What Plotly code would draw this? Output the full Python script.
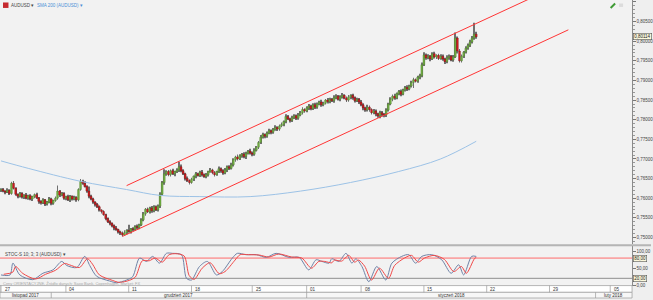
import plotly.graph_objects as go

# ---------------- DATA ----------------
# 4H AUDUSD closes in pips (x1e-4), bar index 0..227
close_pips = [
    7622, 7618, 7615, 7620, 7612, 7638, 7625, 7610, 7605, 7612,
    7603, 7608, 7600, 7606, 7598, 7604, 7609, 7601, 7592, 7588,
    7596, 7585, 7590, 7598, 7587, 7594, 7600, 7618, 7608, 7612,
    7600, 7604, 7596, 7605, 7598, 7602, 7596, 7622, 7643, 7638,
    7630, 7618, 7605, 7598, 7590, 7584, 7578, 7570, 7566, 7558,
    7548, 7540, 7536, 7530, 7524, 7520, 7514, 7511, 7506, 7512,
    7518, 7515, 7522, 7520, 7528, 7525, 7532, 7545, 7560, 7572,
    7565, 7575, 7568, 7578, 7570, 7580, 7610, 7640, 7662, 7668,
    7660, 7670, 7662, 7668, 7672, 7680, 7670, 7662, 7650, 7645,
    7640, 7648, 7656, 7662, 7658, 7666, 7660, 7655, 7660, 7668,
    7672, 7665, 7660, 7668, 7675, 7670, 7664, 7672, 7680, 7676,
    7685, 7698, 7705, 7700, 7708, 7712, 7706, 7714, 7720, 7715,
    7712, 7722, 7730, 7742, 7755, 7762, 7758, 7766, 7772, 7768,
    7775, 7780, 7776, 7784, 7788, 7795, 7808, 7802, 7798, 7805,
    7810, 7804, 7812, 7818, 7826, 7822, 7830, 7835, 7828, 7838,
    7832, 7840, 7845, 7838, 7842, 7850, 7846, 7852, 7848, 7856,
    7860, 7852, 7858, 7862, 7855, 7850, 7858, 7862, 7856, 7848,
    7852, 7845, 7838, 7830, 7825, 7832, 7826, 7818, 7822, 7815,
    7810, 7818, 7813, 7812, 7825, 7840, 7852, 7860, 7855, 7866,
    7872, 7865, 7876, 7882, 7878, 7886, 7895, 7902, 7898, 7908,
    7912, 7940, 7965, 7958, 7962, 7955, 7968, 7960, 7964, 7956,
    7962, 7955, 7948, 7958, 7962, 7952, 7960, 8008, 7975, 7950,
    7962, 7972, 7982, 7990, 7998, 8008, 8018, 8011.4,
]
first_open_pips = 7620
# upper / lower wick lengths in pips
up_wick = [
    3, 4, 2, 5, 3, 4, 6, 3, 2, 4,
    3, 2, 5, 3, 4, 2, 3, 5, 2, 3,
    4, 2, 3, 5, 3, 2, 4, 14, 3, 4,
    3, 2, 5, 3, 2, 4, 3, 3, 6, 4,
    5, 3, 12, 4, 3, 2, 4, 3, 2, 3,
    2, 3, 4, 2, 3, 5, 2, 3, 4, 6,
    3, 14, 2, 4, 3, 5, 3, 4, 5, 3,
    4, 3, 5, 4, 3, 4, 5, 4, 12, 3,
    4, 3, 5, 2, 4, 13, 6, 4, 3, 5,
    3, 4, 2, 5, 3, 4, 6, 3, 4, 2,
    5, 3, 4, 2, 6, 3, 4, 5, 3, 4,
    5, 4, 3, 6, 4, 3, 5, 4, 3, 6,
    4, 5, 3, 4, 6, 5, 3, 4, 5, 3,
    4, 6, 3, 4, 5, 3, 6, 4, 3, 5,
    4, 3, 5, 4, 6, 3, 4, 5, 3, 4,
    5, 4, 3, 6, 4, 3, 5, 4, 3, 6,
    5, 3, 4, 6, 3, 4, 5, 3, 4, 3,
    4, 3, 5, 4, 3, 6, 4, 3, 5, 4,
    3, 5, 4, 4, 4, 3, 5, 4, 6, 3,
    4, 5, 3, 4, 6, 3, 4, 5, 3, 4,
    5, 6, 7, 4, 5, 3, 4, 5, 3, 4,
    5, 4, 3, 6, 4, 3, 5, 14, 4, 5,
    4, 3, 5, 4, 6, 5, 29, 6,
]
down_wick = [
    4, 3, 5, 2, 4, 3, 3, 4, 5, 3,
    4, 5, 3, 4, 3, 5, 4, 3, 6, 4,
    3, 5, 4, 3, 5, 4, 3, 4, 5, 3,
    4, 5, 3, 6, 4, 3, 5, 4, 3, 4,
    3, 4, 5, 3, 4, 5, 3, 4, 5, 3,
    4, 3, 5, 4, 6, 3, 4, 5, 4, 1,
    4, 3, 5, 4, 3, 5, 4, 3, 4, 5,
    3, 4, 5, 4, 3, 4, 5, 4, 6, 5,
    4, 5, 3, 6, 4, 5, 4, 3, 5, 4,
    5, 3, 4, 5, 3, 4, 5, 3, 4, 5,
    3, 4, 5, 3, 4, 5, 4, 3, 5, 4,
    3, 4, 5, 4, 3, 5, 4, 6, 3, 4,
    5, 4, 3, 5, 4, 3, 5, 4, 3, 5,
    4, 3, 5, 4, 3, 5, 4, 3, 5, 4,
    3, 5, 4, 3, 5, 4, 3, 5, 4, 3,
    5, 4, 3, 5, 4, 3, 5, 4, 3, 5,
    4, 3, 5, 4, 3, 5, 4, 6, 5, 4,
    3, 5, 4, 6, 5, 4, 6, 5, 4, 6,
    5, 6, 5, 6, 5, 4, 3, 5, 4, 3,
    4, 5, 3, 4, 5, 3, 4, 14, 3, 4,
    5, 4, 3, 5, 4, 6, 3, 4, 5, 4,
    3, 5, 6, 4, 5, 3, 4, 3, 6, 4,
    4, 5, 3, 4, 5, 4, 4, 5,
]

# SMA 200 (read at sample bars)
sma_bars = [0, 13, 38, 60, 76, 95, 119, 143, 167, 190, 210, 227]
sma_vals = [0.7695, 0.7676, 0.7643, 0.7622, 0.7607, 0.7604, 0.7604,
            0.7618, 0.7640, 0.7668, 0.7700, 0.7745]

# trend channel
chan_low_bars = [58, 271]
chan_low_vals = [0.75025, 0.8029]
chan_up_bars = [60, 271]
chan_up_vals = [0.7632, 0.8154]

# Stochastic 10;3;3
k_bars = [0, 4.3, 5.7, 9, 15.2, 20, 24.8, 29, 31.4, 36.2, 40, 42.4, 45.7, 51.9,
          55.2, 60, 62.9, 66.2, 69.5, 72.4, 75.7, 79, 81.9, 86.2, 88.6, 91,
          94.8, 98.6, 102.9, 105.7, 110.5, 112.9, 117, 122, 126.7, 131.4,
          137.6, 142.4, 147, 150.5, 153.3, 156.7, 158, 161.4, 164.8, 167.6,
          169.5, 172.4, 175.7, 179.5, 183.8, 186.7, 191.4, 194.8, 198, 201,
          205.7, 210.5, 215, 218.6, 221, 224.8, 227]
k_vals = [30, 30, 65, 30, 16, 35, 45, 70, 58, 52, 85, 58, 26, 12,
          7, 15, 25, 80, 70, 85, 65, 94, 94, 90, 20, 15,
          55, 70, 30, 40, 80, 94, 90, 90, 82, 94,
          82, 82, 45, 75, 70, 65, 78, 70, 94, 65,
          78, 55, 10, 55, 15, 65, 85, 90, 65, 85,
          90, 75, 35, 60, 30, 85, 85]
d_bars = [1.3, 5.6, 7, 10.3, 16.5, 21.3, 26.1, 30.3, 32.7, 37.5, 41.3, 43.7, 47,
          53.2, 56.5, 61.3, 64.2, 67.5, 70.8, 73.7, 77, 80.3, 83.2, 87.5, 89.9,
          92.3, 96.1, 99.9, 104.2, 107, 111.8, 114.2, 118.3, 123.3, 128, 132.7,
          138.9, 143.7, 148.3, 151.8, 154.6, 158, 159.3, 162.7, 166.1, 168.9,
          170.8, 173.7, 177, 180.8, 185.1, 188, 192.7, 196.1, 199.3, 202.3,
          207, 211.8, 216.3, 219.9, 222.3, 226.1, 227]
d_vals = [32, 38, 55, 35, 18, 32, 44, 64, 60, 52, 78, 62, 30,
          14, 8, 14, 24, 72, 72, 80, 68, 90, 93, 86, 28,
          17, 50, 66, 34, 40, 74, 90, 90, 89, 83, 92,
          83, 80, 50, 70, 70, 66, 74, 71, 88, 68,
          74, 56, 15, 50, 20, 58, 80, 88, 68, 80,
          88, 76, 40, 55, 35, 78, 82]

# axis labels
price_ticks = [0.750, 0.755, 0.760, 0.765, 0.770, 0.775, 0.780, 0.785,
               0.790, 0.795, 0.800, 0.805, 0.810]
stoch_ticks = [0, 50, 100]
stoch_levels = [80, 20]
week_bars = [0, 31, 61, 91, 120, 146, 172, 202, 232, 262, 291]
week_labels = ["27", "04", "11", "18", "25", "01", "08", "15", "22", "29", "05"]
month_bars = [24, 146, 284]
month_labels = ["listopad 2017", "grudzień 2017", "styczeń 2018", "luty 2018"]
last_price = 0.80114

# ---------------- BUILD ----------------
W, H = 653, 300
PLOT_R = 634
FONT = "Liberation Sans"
r0 = -0.476
r1 = r0 + PLOT_R / 2.1

def py(px):  # pixel y (from top) -> paper
    return (H - px) / H

def pxx(px):
    return px / W

n = len(close_pips)
closes = [c / 1e4 for c in close_pips]
opens = [first_open_pips / 1e4] + closes[:-1]
highs = [max(o, c) + u / 1e4 for o, c, u in zip(opens, closes, up_wick)]
lows = [min(o, c) - d / 1e4 for o, c, d in zip(opens, closes, down_wick)]
idx = list(range(n))

fig = go.Figure()

# wicks
fig.add_trace(go.Bar(x=idx, y=[h - l for h, l in zip(highs, lows)], base=lows,
                     width=0.4, marker=dict(color="#707070", line=dict(width=0)),
                     xaxis="x", yaxis="y", hoverinfo="skip", showlegend=False))
# bodies
body_h = [max(abs(c - o), 0.00007) for o, c in zip(opens, closes)]
body_b = [min(o, c) for o, c in zip(opens, closes)]
body_col = ["#72b043" if c >= o else "#dc1a1f" for o, c in zip(opens, closes)]
body_line = ["#4f7f2c" if c >= o else "#6a0d0d" for o, c in zip(opens, closes)]
fig.add_trace(go.Bar(x=idx, y=body_h, base=body_b, width=0.85,
                     marker=dict(color=body_col, line=dict(width=0.4, color=body_line)),
                     xaxis="x", yaxis="y", hoverinfo="skip", showlegend=False))

# SMA 200
fig.add_trace(go.Scatter(x=sma_bars, y=sma_vals, mode="lines",
                         line=dict(color="#9cc2e6", width=1, shape="spline", smoothing=1.0),
                         xaxis="x", yaxis="y", showlegend=False, hoverinfo="skip"))
# channel
for bx, by in ((chan_up_bars, chan_up_vals), (chan_low_bars, chan_low_vals)):
    fig.add_trace(go.Scatter(x=bx, y=by, mode="lines",
                             line=dict(color="#ff3535", width=1),
                             xaxis="x", yaxis="y", showlegend=False, hoverinfo="skip"))

# stochastic
fig.add_trace(go.Scatter(x=[r0, r1], y=[stoch_levels[0]] * 2, mode="lines",
                         line=dict(color="#ff6b6b", width=1), xaxis="x2", yaxis="y2",
                         showlegend=False, hoverinfo="skip"))
fig.add_trace(go.Scatter(x=[r0, r1], y=[stoch_levels[1]] * 2, mode="lines",
                         line=dict(color="#8f8f8f", width=1), xaxis="x2", yaxis="y2",
                         showlegend=False, hoverinfo="skip"))
fig.add_trace(go.Scatter(x=k_bars, y=k_vals, mode="lines",
                         line=dict(color="#6f82a6", width=1, shape="spline", smoothing=0.8),
                         xaxis="x2", yaxis="y2", showlegend=False, hoverinfo="skip"))
fig.add_trace(go.Scatter(x=d_bars, y=d_vals, mode="lines",
                         line=dict(color="#f04848", width=1, shape="spline", smoothing=0.8),
                         xaxis="x2", yaxis="y2", showlegend=False, hoverinfo="skip"))

shapes = []
annotations = []

# panel separator
shapes.append(dict(type="rect", xref="paper", yref="paper", x0=0, x1=1,
                   y0=py(248), y1=py(246), fillcolor="#b5b5b5", line=dict(width=0), layer="above"))
# axis rows
row_mid = py(294.3)
shapes.append(dict(type="rect", xref="paper", yref="paper", x0=0, x1=pxx(PLOT_R),
                   y0=row_mid, y1=py(287.5), fillcolor="#ffffff",
                   line=dict(color="#9a9a9a", width=0.7)))
shapes.append(dict(type="rect", xref="paper", yref="paper", x0=0, x1=pxx(PLOT_R),
                   y0=0, y1=row_mid, fillcolor="#f7f7f7",
                   line=dict(color="#9a9a9a", width=0.7)))
for b, lab in zip(week_bars, week_labels):
    shapes.append(dict(type="line", xref="x", yref="paper", x0=b, x1=b,
                       y0=row_mid, y1=py(287.5), line=dict(color="#9a9a9a", width=0.7)))
    annotations.append(dict(xref="x", yref="paper", x=b, y=py(291), xanchor="left",
                            yanchor="middle", xshift=1.5, text=lab, showarrow=False,
                            font=dict(family=FONT, size=4.5, color="#333")))
for b in month_bars:
    shapes.append(dict(type="line", xref="x", yref="paper", x0=b, x1=b,
                       y0=0, y1=row_mid, line=dict(color="#9a9a9a", width=0.7)))
bounds = [r0] + month_bars + [r1]
for i, lab in enumerate(month_labels):
    annotations.append(dict(xref="x", yref="paper", x=(bounds[i] + bounds[i + 1]) / 2,
                            y=py(297.2), xanchor="center", yanchor="middle", text=lab,
                            showarrow=False, font=dict(family=FONT, size=4.5, color="#333")))

# header
shapes.append(dict(type="rect", xref="paper", yref="paper", x0=pxx(3), x1=pxx(8.5),
                   y0=py(8), y1=py(2.5), fillcolor="#c62a2f", line=dict(width=0)))
annotations.append(dict(xref="paper", yref="paper", x=pxx(10.5), y=py(5.2), xanchor="left",
                        yanchor="middle", text="AUDUSD ▾", showarrow=False, borderpad=0,
                        font=dict(family=FONT, size=4.5, color="#444")))
annotations.append(dict(xref="paper", yref="paper", x=pxx(36), y=py(5.2), xanchor="left",
                        yanchor="middle", text="SMA 200 (AUDUSD) ▾", showarrow=False,
                        borderpad=0, font=dict(family=FONT, size=4.5, color="#4a8fd6")))
# top-right icons
shapes.append(dict(type="line", xref="paper", yref="paper", x0=pxx(612.5), x1=pxx(617),
                   y0=py(8), y1=py(3.5), line=dict(color="#3f9b35", width=2)))
shapes.append(dict(type="rect", xref="paper", yref="paper", x0=pxx(621), x1=pxx(625),
                   y0=py(7), y1=py(3.5), fillcolor="#dcdcdc", line=dict(width=0)))

# stoch label & source text
annotations.append(dict(xref="paper", yref="paper", x=pxx(3), y=py(256), xanchor="left",
                        yanchor="middle", text="STOC-S 10; 3; 3 (AUDUSD) ▾", showarrow=False,
                        font=dict(family=FONT, size=4.5, color="#444")))
annotations.append(dict(xref="paper", yref="paper", x=pxx(1), y=py(285.8), xanchor="left",
                        yanchor="middle",
                        text="Ceny ORIENTACYJNE, Źródło danych: Saxo Bank, Copenhagen, Market: FX",
                        showarrow=False, font=dict(family=FONT, size=4, color="#a8a8a8")))

# value boxes
box = dict(bgcolor="#fbf8dc", bordercolor="#555", borderwidth=0.6, borderpad=0.6,
           font=dict(family=FONT, size=4.5, color="#222"), showarrow=False,
           xanchor="left", yanchor="middle", xref="paper")
annotations.append(dict(box, x=pxx(PLOT_R + 1), y=last_price, yref="y",
                        text=f"{last_price:.5f}".replace(".", ",")))
for lv in stoch_levels:
    annotations.append(dict(box, x=pxx(PLOT_R + 1), y=lv, yref="y2",
                            text=f"{lv:.2f}".replace(".", ",")))

dom_x = [0, PLOT_R / W]
fig.update_layout(
    width=W, height=H, autosize=False,
    margin=dict(l=0, r=0, t=0, b=0),
    paper_bgcolor="#efefef", plot_bgcolor="#f2f2f2",
    barmode="overlay", showlegend=False,
    font=dict(family=FONT, size=5, color="#444"),
    xaxis=dict(domain=dom_x, range=[r0, r1], anchor="y", showticklabels=False,
               showgrid=False, zeroline=False, showline=False, ticks=""),
    xaxis2=dict(domain=dom_x, range=[r0, r1], anchor="y2", matches="x",
                showticklabels=False, showgrid=False, zeroline=False, showline=False, ticks=""),
    yaxis=dict(domain=[py(246), 1], side="right", anchor="x",
               range=[0.81 - 244 / 3950, 0.81 + 2 / 3950],
               tickvals=price_ticks,
               ticktext=[f"{v:.5f}".replace(".", ",") for v in price_ticks],
               ticks="outside", ticklen=2.5, tickcolor="#777", tickwidth=0.7,
               minor=dict(ticks="outside", ticklen=1.5, dtick=0.001, tickcolor="#999",
                          tickwidth=0.6, showgrid=False),
               showline=True, linecolor="#8a8a8a", linewidth=1, showgrid=False,
               zeroline=False, tickfont=dict(family=FONT, size=4.5, color="#444")),
    yaxis2=dict(domain=[py(287.5), py(248)], side="right", anchor="x2",
                range=[-1.5, 114.7], tickvals=stoch_ticks,
                ticktext=[f"{v:.2f}".replace(".", ",") for v in stoch_ticks],
                ticks="outside", ticklen=2.5, tickcolor="#777", tickwidth=0.7,
                showline=True, linecolor="#8a8a8a", linewidth=1, showgrid=False,
                zeroline=False, tickfont=dict(family=FONT, size=4.5, color="#444")),
    shapes=shapes, annotations=annotations,
)

fig.write_html("out.html")
